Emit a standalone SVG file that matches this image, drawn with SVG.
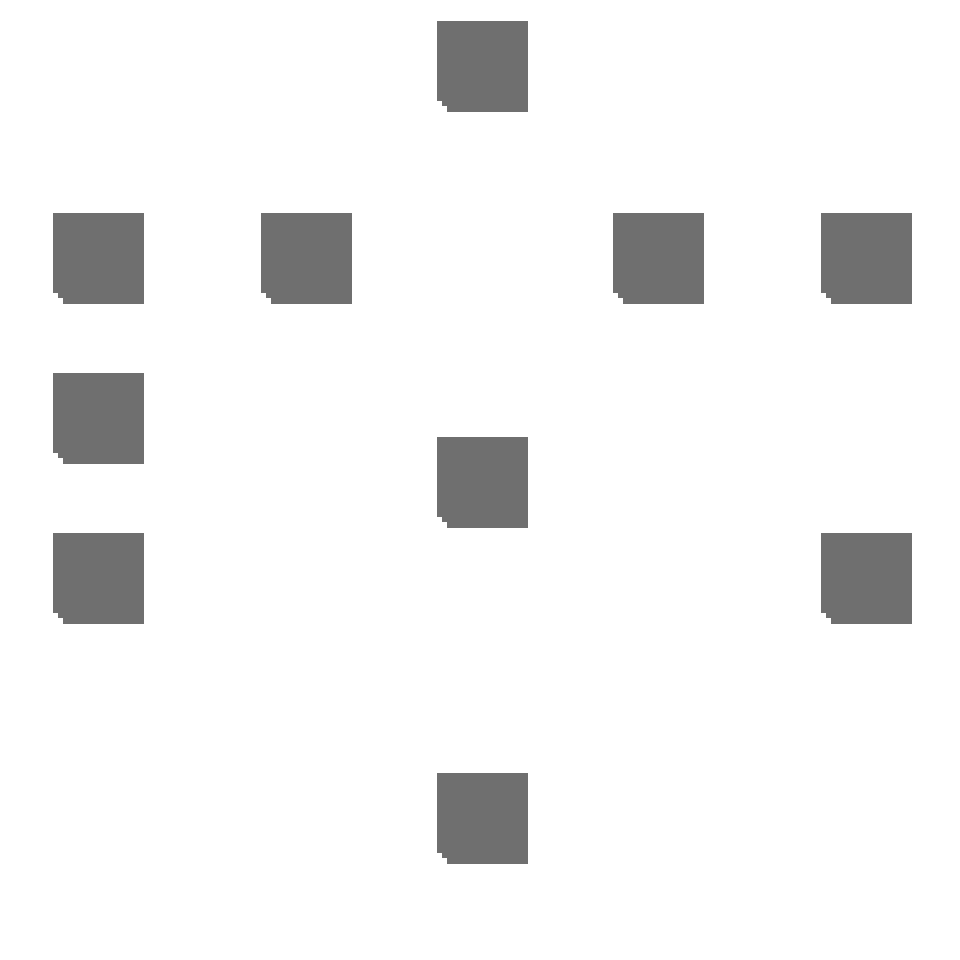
<svg xmlns="http://www.w3.org/2000/svg" xmlns:xlink="http://www.w3.org/1999/xlink" width="960" height="960" viewBox="0 0 960 960">
<style>
.node{fill:#6f6f6f;shape-rendering:crispEdges}
</style>
<defs>
<path id="sq" d="M0,0 h91 v91 h-81 v-6 h-5 v-5 h-5 z"/>
</defs>
<rect width="960" height="960" fill="#ffffff"/>
<g id="connectors"></g>
<g id="n1" class="node"><use xlink:href="#sq" href="#sq" x="437" y="21"/></g>
<g id="n2" class="node"><use xlink:href="#sq" href="#sq" x="53" y="213"/></g>
<g id="n3" class="node"><use xlink:href="#sq" href="#sq" x="261" y="213"/></g>
<g id="n4" class="node"><use xlink:href="#sq" href="#sq" x="613" y="213"/></g>
<g id="n5" class="node"><use xlink:href="#sq" href="#sq" x="821" y="213"/></g>
<g id="n6" class="node"><use xlink:href="#sq" href="#sq" x="53" y="373"/></g>
<g id="n7" class="node"><use xlink:href="#sq" href="#sq" x="437" y="437"/></g>
<g id="n8" class="node"><use xlink:href="#sq" href="#sq" x="53" y="533"/></g>
<g id="n9" class="node"><use xlink:href="#sq" href="#sq" x="821" y="533"/></g>
<g id="n10" class="node"><use xlink:href="#sq" href="#sq" x="437" y="773"/></g>
</svg>
